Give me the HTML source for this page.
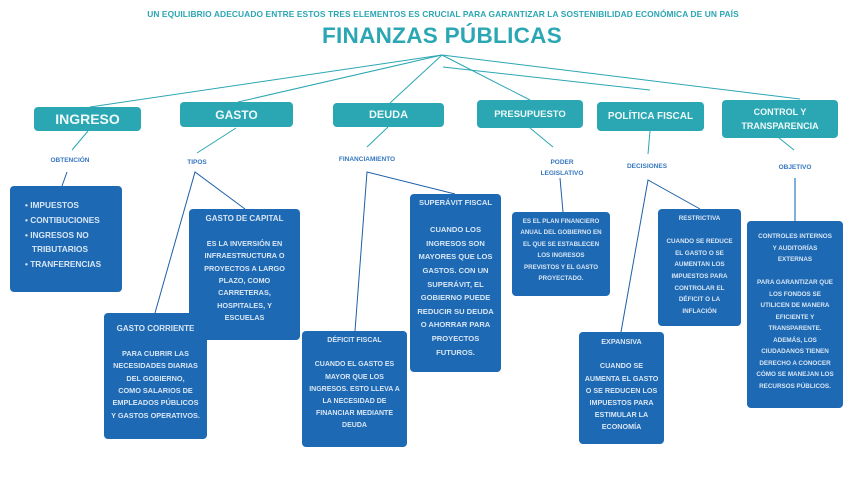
<!DOCTYPE html>
<html><head><meta charset="utf-8"><style>
body{margin:0;width:850px;height:478px;background:#fff;position:relative;overflow:hidden;font-family:"Liberation Sans","DejaVu Sans",sans-serif;font-weight:bold;}
.t{position:absolute;background:#2ba6b3;color:#eefafa;border-radius:4px;display:flex;align-items:center;justify-content:center;text-align:center;}
.b{position:absolute;background:#1d69b4;color:#d8e6f4;border-radius:4px;text-align:center;font-size:7.3px;line-height:12.4px;box-sizing:border-box;padding-top:4px;}
.l{position:absolute;color:#3677c0;font-size:6.5px;text-align:center;line-height:11px;}
svg{position:absolute;left:0;top:0}
</style></head><body>
<div style="position:absolute;left:0;width:886px;top:9px;text-align:center;font-size:8.4px;color:#2ba6b3;letter-spacing:0.1px">UN EQUILIBRIO ADECUADO ENTRE ESTOS TRES ELEMENTOS ES CRUCIAL PARA GARANTIZAR LA SOSTENIBILIDAD ECONÓMICA DE UN PAÍS</div>
<div style="position:absolute;left:242px;width:400px;top:23px;text-align:center;font-size:22.5px;color:#2ba6b3;letter-spacing:0.3px">FINANZAS PÚBLICAS</div>
<svg width="850" height="478">
<g stroke="#2ba6b3" stroke-width="1" fill="none">
<line x1="442" y1="55" x2="90" y2="107"/>
<line x1="442" y1="55" x2="238" y2="102"/>
<line x1="442" y1="55" x2="390" y2="103"/>
<line x1="442" y1="55" x2="530" y2="100"/>
<line x1="442" y1="55" x2="800" y2="99"/>
<line x1="443" y1="67" x2="650" y2="90"/>
<line x1="88" y1="131" x2="72" y2="150"/>
<line x1="236" y1="128" x2="197" y2="153"/>
<line x1="388" y1="127" x2="367" y2="147"/>
<line x1="530" y1="128" x2="553" y2="147"/>
<line x1="650" y1="131" x2="648" y2="154"/>
<line x1="779" y1="138" x2="794" y2="150"/>
</g>
<g stroke="#1d5fa8" stroke-width="1" fill="none">
<line x1="67" y1="172" x2="62" y2="186"/>
<polyline points="155,313 195,172 245,209"/>
<polyline points="355,331 367,172 455,194"/>
<line x1="560" y1="178" x2="563" y2="212"/>
<polyline points="621,332 648,180 700,209"/>
</g>
<line x1="795" y1="178" x2="795" y2="221" stroke="#7fb0dd" stroke-width="2"/>
</svg>
<div class="t" style="left:34px;top:107px;width:107px;height:24px;font-size:14px">INGRESO</div>
<div class="t" style="left:180px;top:102px;width:113px;height:25px;font-size:12px">GASTO</div>
<div class="t" style="left:333px;top:103px;width:111px;height:24px;font-size:11px">DEUDA</div>
<div class="t" style="left:477px;top:100px;width:106px;height:28px;font-size:9.5px">PRESUPUESTO</div>
<div class="t" style="left:597px;top:102px;width:107px;height:29px;font-size:10px">POLÍTICA FISCAL</div>
<div class="t" style="left:722px;top:100px;width:116px;height:38px;font-size:9px;line-height:14px">CONTROL Y<br>TRANSPARENCIA</div>
<div class="l" style="left:30px;width:80px;top:155px">OBTENCIÓN</div>
<div class="l" style="left:167px;width:60px;top:157px">TIPOS</div>
<div class="l" style="left:317px;width:100px;top:154px">FINANCIAMIENTO</div>
<div class="l" style="left:522px;width:80px;top:157px">PODER<br>LEGISLATIVO</div>
<div class="l" style="left:607px;width:80px;top:161px">DECISIONES</div>
<div class="l" style="left:755px;width:80px;top:162px">OBJETIVO</div>
<div class="b" style="left:10px;top:186px;width:112px;height:106px;text-align:left;font-size:8.3px;line-height:14.8px;padding:12px 0 0 15px">• IMPUESTOS<br>• CONTIBUCIONES<br>• INGRESOS NO<br>&nbsp;&nbsp;&nbsp;TRIBUTARIOS<br>• TRANFERENCIAS</div>
<div class="b" style="left:189px;top:209px;width:111px;height:131px"><span style="font-size:8px">GASTO DE CAPITAL</span><br><br>ES LA INVERSIÓN EN<br>INFRAESTRUCTURA O<br>PROYECTOS A LARGO<br>PLAZO, COMO<br>CARRETERAS,<br>HOSPITALES, Y<br>ESCUELAS</div>
<div class="b" style="left:104px;top:313px;width:103px;height:126px;padding-top:10px"><span style="font-size:8px">GASTO CORRIENTE</span><br><br>PARA CUBRIR LAS<br>NECESIDADES DIARIAS<br>DEL GOBIERNO,<br>COMO SALARIOS DE<br>EMPLEADOS PÚBLICOS<br>Y GASTOS OPERATIVOS.</div>
<div class="b" style="left:302px;top:331px;width:105px;height:116px;font-size:7px;line-height:12.2px">DÉFICIT FISCAL<br><br>CUANDO EL GASTO ES<br>MAYOR QUE LOS<br>INGRESOS. ESTO LLEVA A<br>LA NECESIDAD DE<br>FINANCIAR MEDIANTE<br>DEUDA</div>
<div class="b" style="left:410px;top:194px;width:91px;height:178px;font-size:7.6px;line-height:13.6px;padding-top:2px">SUPERÁVIT FISCAL<br><br>CUANDO LOS<br>INGRESOS SON<br>MAYORES QUE LOS<br>GASTOS. CON UN<br>SUPERÁVIT, EL<br>GOBIERNO PUEDE<br>REDUCIR SU DEUDA<br>O AHORRAR PARA<br>PROYECTOS<br>FUTUROS.</div>
<div class="b" style="left:512px;top:212px;width:98px;height:84px;font-size:6.2px;line-height:11.4px">ES EL PLAN FINANCIERO<br>ANUAL DEL GOBIERNO EN<br>EL QUE SE ESTABLECEN<br>LOS INGRESOS<br>PREVISTOS Y EL GASTO<br>PROYECTADO.</div>
<div class="b" style="left:658px;top:209px;width:83px;height:117px;font-size:6.3px;line-height:11.6px">RESTRICTIVA<br><br>CUANDO SE REDUCE<br>EL GASTO O SE<br>AUMENTAN LOS<br>IMPUESTOS PARA<br>CONTROLAR EL<br>DÉFICIT O LA<br>INFLACIÓN</div>
<div class="b" style="left:579px;top:332px;width:85px;height:112px;font-size:7.2px;line-height:12.2px">EXPANSIVA<br><br>CUANDO SE<br>AUMENTA EL GASTO<br>O SE REDUCEN LOS<br>IMPUESTOS PARA<br>ESTIMULAR LA<br>ECONOMÍA</div>
<div class="b" style="left:747px;top:221px;width:96px;height:187px;font-size:6.3px;line-height:11.5px;padding-top:10px">CONTROLES INTERNOS<br>Y AUDITORÍAS<br>EXTERNAS<br><br>PARA GARANTIZAR QUE<br>LOS FONDOS SE<br>UTILICEN DE MANERA<br>EFICIENTE Y<br>TRANSPARENTE.<br>ADEMÁS, LOS<br>CIUDADANOS TIENEN<br>DERECHO A CONOCER<br>CÓMO SE MANEJAN LOS<br>RECURSOS PÚBLICOS.</div>
</body></html>
